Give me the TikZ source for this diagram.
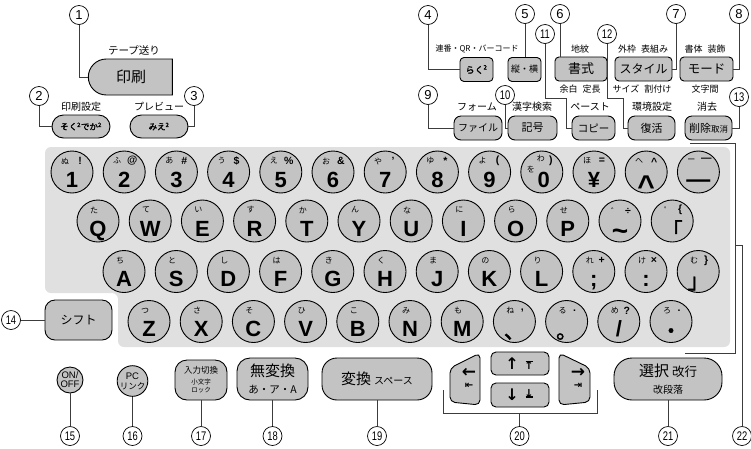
\documentclass[tikz,border=0pt]{standalone}
\usepackage{fontspec}
\usepackage{graphicx}
\setmainfont{Liberation Sans}
\newfontfamily\jp[AutoFakeBold=2]{Noto Sans CJK JP}
\newfontfamily\dvs{DejaVu Sans}
\usetikzlibrary{calc,shapes.misc}
\definecolor{panelg}{HTML}{E0E0E0}
\definecolor{keyg}{HTML}{C3C3C3}
\definecolor{leadc}{HTML}{3C3C3C}
\newcommand\fsz[1]{\fontsize{#1}{#1}\selectfont}
\newcommand\nn[1]{\scalebox{0.75}[1]{\fsz{12.5}#1}}
\def\kanax{-7}
\newcommand\ckey[5]{%
  \node[ckey] (#1) at (#2) {};
  \node[kana] (#1k) at ($(#1)+(\kanax,-11)$) {#3};
  \node[sym] (#1s) at ($(#1)+(8,-11)$) {#4};
  \node[mch] (#1m) at ($(#1)+(0,15)$) {#5};
}
\newcommand\cjkey[5]{%
  \node[ckey] (#1) at (#2) {};
  \node[kana] (#1k) at ($(#1)+(\kanax,-11)$) {#3};
  \node[sym] (#1s) at ($(#1)+(8,-11)$) {#4};
  \node[cjm] (#1m) at ($(#1)+(0,17)$) {#5};
}
\tikzset{
  ckey/.style={circle, draw=black, line width=0.9pt, fill=keyg, minimum size=42pt, inner sep=0pt},
  num/.style={circle, draw=black, line width=0.7pt, fill=white, minimum size=19pt, inner sep=0pt, font=\fsz{13}},
  lead/.style={draw=leadc, line width=0.8pt},
  rkey/.style={draw=black, line width=0.9pt, fill=keyg, rounded corners=4pt, inner sep=0pt},
  pill/.style={rounded rectangle, draw=black, line width=0.9pt, fill=keyg, inner sep=0pt},
  lbl/.style={inner sep=0pt, font=\jp\fsz{9}},
  lblb/.style={inner sep=0pt, font=\jp\fsz{10}},
  kana/.style={inner sep=0pt, font=\jp\fsz{8}},
  sym/.style={inner sep=0pt, font=\bfseries\fsz{10.5}},
  mch/.style={inner sep=0pt, font=\bfseries\fsz{22}, anchor=base},
  cjm/.style={inner sep=0pt, font=\jp\bfseries\fsz{21}, anchor=base},
  arr/.style={inner sep=0pt, font=\dvs\bfseries\fsz{16}},
  arrs/.style={inner sep=0pt, font=\dvs\bfseries\fsz{10}},
  bar/.style={line width=1.3pt},
}
\begin{document}
\begin{tikzpicture}[x=1pt,y=-1pt]
\useasboundingbox (0,0) rectangle (751,448);
\fill[white] (0,0) rectangle (751,448);

% keyboard panel
\fill[panelg, rounded corners=6pt] (45,147) -- (730,147) -- (730,347) -- (118,347) -- (118,293) -- (45,293) -- cycle;

% ---------- top left ----------
\node[lblb, font=\jp\fsz{10.5}] (l1) at (134,50) {テープ送り};
\node[pill, rounded rectangle right arc=none, minimum width=84pt, minimum height=36pt, font=\jp\fsz{15}] (print) at (131,77) {印刷};
\node[lblb] (l2) at (81,107) {印刷設定};
\node[lblb] (l3) at (159,107) {プレビュー};
\node[pill, minimum width=58pt, minimum height=23pt, font=\jp\bfseries\fsz{8.5}] (k2) at (81,126.5) {そく\textsuperscript{2}でか\textsuperscript{2}};
\node[pill, minimum width=58pt, minimum height=23pt, font=\jp\bfseries\fsz{8.5}] (k3) at (159,126.5) {みえ\textsuperscript{2}};

% ---------- top right, row A ----------
\node[lbl, font=\jp\fsz{8}] (l4) at (477,49) {連番・QR・バーコード};
\node[lbl] (l6) at (580,49) {地紋};
\node[lbl] (l7) at (643,49) {外枠\hspace{5pt}表組み};
\node[lbl] (l8) at (705,49) {書体\hspace{5pt}装飾};
\node[rkey, minimum width=33pt, minimum height=24pt, font=\jp\bfseries\fsz{9}] (k4) at (476.5,69.5) {らく\textsuperscript{2}};
\node[rkey, minimum width=33pt, minimum height=24pt, font=\jp\fsz{9}] (k5) at (524.5,69.5) {縦・横};
\node[rkey, minimum width=52pt, minimum height=24pt, font=\jp\fsz{13}] (k6) at (581,69) {書式};
\node[rkey, minimum width=57pt, minimum height=24pt, font=\jp\fsz{12}] (k7) at (643.5,69) {スタイル};
\node[rkey, minimum width=53pt, minimum height=24pt, font=\jp\fsz{12.5}] (k8) at (706.5,69) {モード};
\node[lbl] (l6b) at (580,89) {余白\hspace{5pt}定長};
\node[lbl] (l7b) at (642,89) {サイズ\hspace{5pt}割付け};
\node[lbl] (l8b) at (705,89) {文字間};

% ---------- top right, row B ----------
\node[lblb] (l9) at (477,107) {フォーム};
\node[lblb] (l10) at (532,107) {漢字検索};
\node[lblb] (l11) at (590,107) {ペースト};
\node[lblb] (l12) at (652,107) {環境設定};
\node[lblb] (l13) at (707,107) {消去};
\node[rkey, rounded corners=7pt, minimum width=48pt, minimum height=24pt, font=\jp\fsz{10}] (k9) at (478,128) {ファイル};
\node[rkey, rounded corners=7pt, minimum width=49pt, minimum height=24pt, font=\jp\fsz{11}] (k10) at (532.5,128) {記号};
\node[rkey, rounded corners=7pt, minimum width=43pt, minimum height=24pt, font=\jp\fsz{10.5}] (k11) at (593.5,128) {コピー};
\node[rkey, rounded corners=7pt, minimum width=47pt, minimum height=24pt, font=\jp\fsz{11}] (k12) at (651.5,128) {復活};
\node[rkey, rounded corners=7pt, minimum width=47pt, minimum height=24pt, font=\jp\fsz{11}] (k13) at (708.5,128) {削除{\fsz{8.5}取消}};

% ---------- row 1 ----------
\def\kanax{-7}
\ckey{r1a}{72,172}{ぬ}{!}{1}
\ckey{r1b}{124.2,172}{ふ}{@}{2}
\ckey{r1c}{176.4,172}{あ}{\#}{3}
\ckey{r1d}{228.6,172}{う}{\$}{4}
\ckey{r1e}{280.8,172}{え}{\%}{5}
\ckey{r1f}{333,172}{お}{\&}{6}
\ckey{r1g}{385.2,172}{や}{'}{7}
\ckey{r1h}{437.4,172}{ゆ}{*}{8}
\ckey{r1i}{489.6,172}{よ}{(}{9}
\node[ckey] (r1j) at (541.8,172) {};
\node[kana] (r1jk) at ($(r1j)+(-1,-14)$) {わ};
\node[kana] (r1jw) at ($(r1j)+(-11,-3)$) {を};
\node[sym] (r1js) at ($(r1j)+(9,-11)$) {)};
\node[mch] (r1jm) at ($(r1j)+(2,15)$) {0};
\ckey{r1k}{594,172}{ほ}{=}{¥}
\node[ckey] (r1l) at (646.2,172) {};
\node[kana] (r1lk) at ($(r1l)+(-7,-11)$) {へ};
\node[sym] (r1ls) at ($(r1l)+(8,-10)$) {\textasciicircum};
\node[inner sep=0pt, font=\bfseries\fsz{30}, anchor=base] (r1lm) at ($(r1l)+(0,24)$) {\textasciicircum};
\node[ckey] (r1m) at (698.4,172) {};
\node[kana] (r1mk) at ($(r1m)+(-7,-11)$) {ー};
\node[sym] (r1ms) at ($(r1m)+(8,-12)$) {—};
\node[mch, font=\bfseries\fsz{24}] (r1mm) at ($(r1m)+(0,15)$) {—};

% ---------- row 2 ----------
\def\kanax{-4}
\ckey{r2a}{98,221}{た}{}{Q}
\ckey{r2b}{150.2,221}{て}{}{W}
\ckey{r2c}{202.4,221}{い}{}{E}
\ckey{r2d}{254.6,221}{す}{}{R}
\ckey{r2e}{306.8,221}{か}{}{T}
\ckey{r2f}{359,221}{ん}{}{Y}
\ckey{r2g}{411.2,221}{な}{}{U}
\ckey{r2h}{463.4,221}{に}{}{I}
\ckey{r2i}{515.6,221}{ら}{}{O}
\ckey{r2j}{567.8,221}{せ}{}{P}
\node[ckey] (r2k) at (620,221) {};
\node[kana] (r2kk) at ($(r2k)+(-5,-10)$) {゛};
\node[sym] (r2ks) at ($(r2k)+(8,-10)$) {÷};
\node[mch, font=\bfseries\fsz{28}] (r2km) at ($(r2k)+(0,19)$) {\textasciitilde};
\cjkey{r2l}{672.2,221}{゜}{\{}{「}

% ---------- row 3 ----------
\ckey{r3a}{124,271.5}{ち}{}{A}
\ckey{r3b}{176.2,271.5}{と}{}{S}
\ckey{r3c}{228.4,271.5}{し}{}{D}
\ckey{r3d}{280.6,271.5}{は}{}{F}
\ckey{r3e}{332.8,271.5}{き}{}{G}
\ckey{r3f}{385,271.5}{く}{}{H}
\ckey{r3g}{437.2,271.5}{ま}{}{J}
\ckey{r3h}{489.4,271.5}{の}{}{K}
\ckey{r3i}{541.6,271.5}{り}{}{L}
\ckey{r3j}{593.8,271.5}{れ}{+}{;}
\ckey{r3k}{646,271.5}{け}{×}{:}
\cjkey{r3l}{698.2,271.5}{む}{\}}{」}

% ---------- row 4 ----------
\ckey{r4a}{149,321.5}{つ}{}{Z}
\ckey{r4b}{201.2,321.5}{さ}{}{X}
\ckey{r4c}{253.4,321.5}{そ}{}{C}
\ckey{r4d}{305.6,321.5}{ひ}{}{V}
\ckey{r4e}{357.8,321.5}{こ}{}{B}
\ckey{r4f}{410,321.5}{み}{}{N}
\ckey{r4g}{462.2,321.5}{も}{}{M}
\cjkey{r4h}{514.4,321.5}{ね}{,}{、}
\cjkey{r4i}{566.6,321.5}{る}{.}{。}
\ckey{r4j}{618.8,321.5}{め}{?}{/}
\cjkey{r4k}{671,321.5}{ろ}{.}{・}

% shift
\node[rkey, rounded corners=10pt, minimum width=67pt, minimum height=40pt, font=\jp\fsz{12}] (shift) at (78.5,320) {シフト};

% ---------- bottom row ----------
\node[circle, draw=black, line width=0.9pt, fill=keyg, minimum size=26pt, inner sep=0pt, align=center, font=\fontsize{9.5}{9}\selectfont] (k15) at (70,380) {ON/\\OFF};
\node[circle, draw=black, line width=0.9pt, fill=keyg, minimum size=29pt, inner sep=0pt, align=center, font=\fontsize{9.5}{10}\selectfont] (k16) at (132.5,381) {PC\\{\jp\fsz{8.5}リンク}};
\node[rkey, rounded corners=12pt, minimum width=52pt, minimum height=40pt, align=center, font=\jp\fontsize{8.5}{8}\selectfont] (k17) at (201,380) {入力切換\\[3pt]{\fontsize{6.5}{6.5}\selectfont 小文字}\\{\fontsize{6.5}{6.5}\selectfont ロック}};
\node[rkey, rounded corners=13pt, minimum width=71pt, minimum height=42pt, align=center, font=\jp\fontsize{15}{17}\selectfont] (k18) at (272.5,379) {無変換\\{\fsz{10.5}あ・ア・A}};
\node[rkey, rounded corners=15pt, minimum width=110pt, minimum height=42pt, font=\jp\fsz{15}] (k19) at (377,379) {変換\hspace{3pt}{\fsz{10}スペース}};
\node[rkey, rounded corners=18pt, minimum width=108pt, minimum height=42pt, align=center, font=\jp\fontsize{15}{17}\selectfont] (k21) at (668,379) {選択\hspace{3pt}{\fsz{12.5}改行}\\{\fsz{10}改段落}};

% arrow keys
\draw[rkey, rounded corners=5pt] (450,368) -- (480,353) -- (480,405) -- (450,402) -- cycle;
\draw[rkey, rounded corners=5pt] (559,353) -- (590,368) -- (590,402) -- (559,405) -- cycle;
\node[rkey, rounded corners=5pt, minimum width=58pt, minimum height=23pt] (kup) at (520,363.5) {};
\node[rkey, rounded corners=5pt, minimum width=58pt, minimum height=24pt] (kdn) at (520,395) {};
\node[arr, font=\dvs\bfseries\fsz{17}] (al1) at (469,373) {←};
\node[arrs] (al2) at (469,386) {⇤};
\node[arr, font=\dvs\bfseries\fsz{17}] (ar1) at (578,373) {→};
\node[arrs] (ar2) at (578,386) {⇥};
\node[arr] (au) at (512,364) {↑};
\node[arrs, font=\dvs\bfseries\fsz{11}] (au2) at (529,365.5) {↑};
\draw[bar] ([xshift=-3.5pt, yshift=-0.3pt]au2.north) -- ([xshift=3.5pt, yshift=-0.3pt]au2.north);
\node[arr] (ad) at (512,395) {↓};
\node[arrs, font=\dvs\bfseries\fsz{11}] (ad2) at (529,393.5) {↓};
\draw[bar] ([xshift=-3.5pt, yshift=0.6pt]ad2.south) -- ([xshift=3.5pt, yshift=0.6pt]ad2.south);

% ---------- number circles ----------
\node[num] (c1) at (79,15) {1};
\node[num] (c2) at (39,96) {2};
\node[num] (c3) at (194,96) {3};
\node[num] (c4) at (428,15) {4};
\node[num] (c5) at (525,14) {5};
\node[num] (c6) at (560,14) {6};
\node[num] (c7) at (676,14) {7};
\node[num] (c8) at (739,14) {8};
\node[num] (c9) at (428,95) {9};
\node[num] (c10) at (505,95) {\nn{10}};
\node[num] (c11) at (545,34) {\nn{11}};
\node[num] (c12) at (607,34) {\nn{12}};
\node[num] (c13) at (739,97) {\nn{13}};
\node[num] (c14) at (11,320) {\nn{14}};
\node[num] (c15) at (70,436) {\nn{15}};
\node[num] (c16) at (132.5,436) {\nn{16}};
\node[num] (c17) at (201,436) {\nn{17}};
\node[num] (c18) at (272.5,436) {\nn{18}};
\node[num] (c19) at (377,436) {\nn{19}};
\node[num] (c20) at (519.5,436) {\nn{20}};
\node[num] (c21) at (668,436) {\nn{21}};
\node[num] (c22) at (742,436) {\nn{22}};

% ---------- leader lines ----------
\coordinate (b11) at (566,98);
\coordinate (b12) at (623,98);
\coordinate (b20a) at (443,390);
\coordinate (b20b) at (443,413);
\coordinate (b20c) at (597,413);
\coordinate (b20d) at (597,390);
\coordinate (b20m) at (519.5,413);
\coordinate (b22a) at (690,143);
\coordinate (b22b) at (735,143);
\coordinate (b22c) at (735,353);
\coordinate (b22d) at (685,353);
\coordinate (b22m) at (735,245);

\draw[lead] (c1) |- (print.west);
\draw[lead] (c2) |- (k2.west);
\draw[lead] (c3) |- (k3.east);
\draw[lead] (c4) |- (k4.west);
\draw[lead] (c5) -- (c5 |- k5.north);
\draw[lead] (c6) -- (c6 |- k6.north);
\draw[lead] (c7) |- (k7.east);
\draw[lead] (c8) |- (k8.east);
\draw[lead] (c9) |- (k9.west);
\draw[lead] (c10) |- (k10.west);
\draw[lead] (c11) |- (b11) |- (k11.west);
\draw[lead] (c12) |- (b12) |- (k12.west);
\draw[lead] (c13) |- (k13.east);
\draw[lead] (c14) -- (shift);
\draw[lead] (k15) -- (c15);
\draw[lead] (k16) -- (c16);
\draw[lead] (k17) -- (c17);
\draw[lead] (k18) -- (c18);
\draw[lead] (k19) -- (c19);
\draw[lead] (k21) -- (c21);
\draw[lead] (b20a) -- (b20b) -- (b20c) -- (b20d);
\draw[lead] (b20m) -- (c20);
\draw[lead] (b22a) -- (b22b) -- (b22c) -- (b22d);
\draw[lead] (b22m) -| (c22);
\end{tikzpicture}
\end{document}
